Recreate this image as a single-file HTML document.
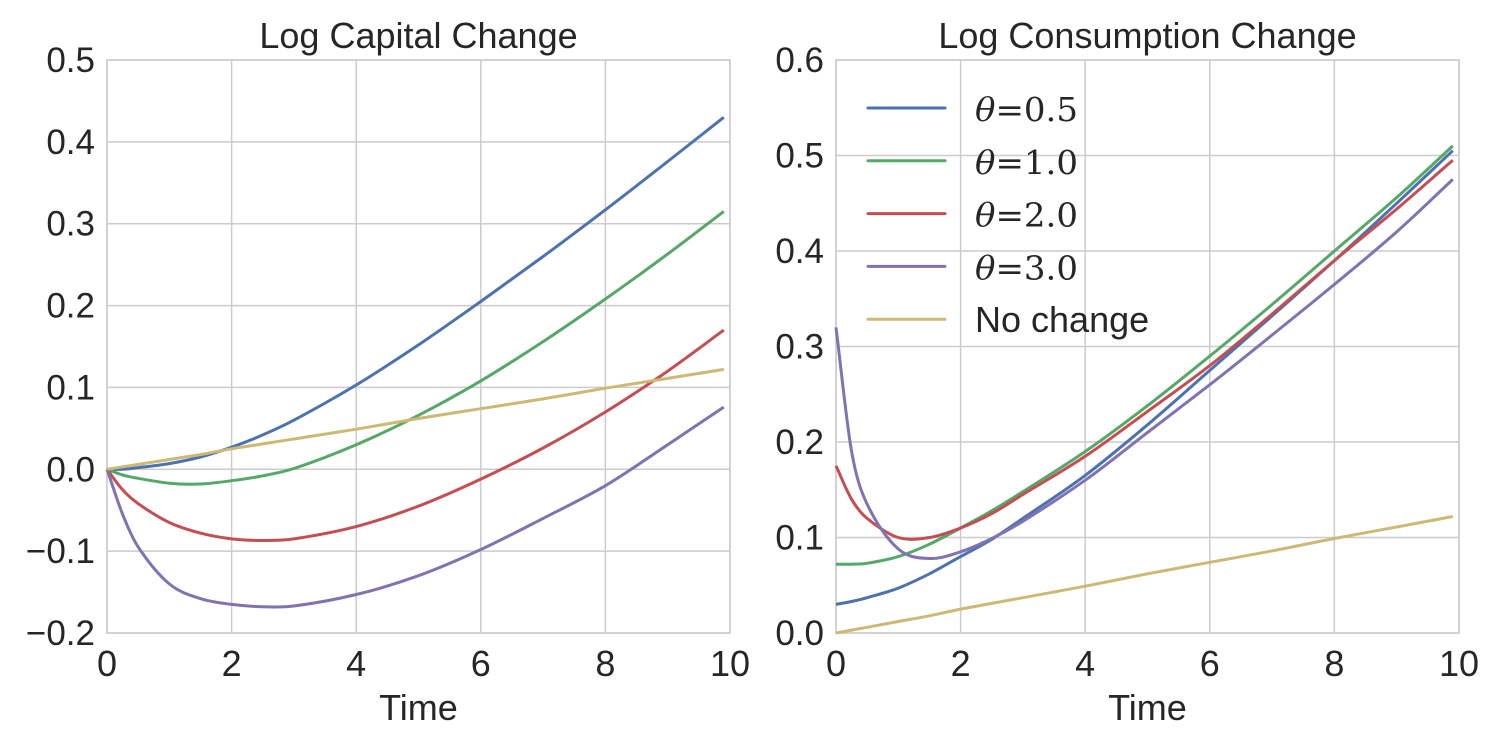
<!DOCTYPE html>
<html><head><meta charset="utf-8"><style>
body{margin:0;background:#fff}
svg{display:block;font-family:"Liberation Sans",sans-serif}
</style></head><body>
<svg id="c" width="1500" height="750"></svg>
<script>
const times=[0,0.25,0.5,1,1.5,2,2.5,3,4,5,6,7,8,9,9.9];
const capBlue=[0,0,0.002,0.007,0.015,0.027,0.042,0.06,0.103,0.152,0.205,0.26,0.317,0.376,0.43];
const capGreen=[0,-0.007,-0.011,-0.017,-0.018,-0.014,-0.008,0.001,0.03,0.066,0.108,0.156,0.208,0.263,0.315];
const capRed=[0,-0.025,-0.042,-0.065,-0.078,-0.085,-0.087,-0.085,-0.07,-0.045,-0.012,0.026,0.07,0.12,0.17];
const capPurple=[0,-0.055,-0.095,-0.14,-0.158,-0.165,-0.168,-0.167,-0.153,-0.13,-0.098,-0.06,-0.02,0.03,0.076];
const capYellow=[0,0.003,0.006,0.012,0.018,0.025,0.031,0.037,0.049,0.062,0.074,0.086,0.099,0.111,0.122];
const conBlue=[0.03,0.033,0.037,0.047,0.062,0.08,0.098,0.12,0.165,0.218,0.275,0.332,0.39,0.45,0.505];
const conGreen=[0.072,0.072,0.073,0.08,0.093,0.11,0.128,0.148,0.19,0.238,0.29,0.344,0.4,0.456,0.51];
const conRed=[0.175,0.14,0.12,0.1,0.1,0.11,0.125,0.145,0.185,0.232,0.28,0.334,0.39,0.444,0.495];
const conPurple=[0.32,0.19,0.135,0.088,0.078,0.085,0.099,0.117,0.16,0.21,0.26,0.312,0.365,0.42,0.475];
const conYellow=capYellow;
const xTicks=[0,2,4,6,8,10];
const yTicksL=[-0.2,-0.1,0,0.1,0.2,0.3,0.4,0.5];
const yTicksR=[0,0.1,0.2,0.3,0.4,0.5,0.6];
const colors=["#4c72b0","#55a868","#c44e52","#8172b2","#ccb974"];
const labels=["0.5","1.0","2.0","3.0"];
const NS="http://www.w3.org/2000/svg";
const svg=document.getElementById('c');
function mk(t,a,p){const e=document.createElementNS(NS,t);for(const k in a)e.setAttribute(k,a[k]);(p||svg).appendChild(e);return e;}
function fmt(v){let s=v.toFixed(1);if(s==="-0.0")s="0.0";return s.replace('-','\u2212');}
function smooth(ts,ys,X,Y){const n=ts.length,m=[];
  for(let i=0;i<n;i++){const a=Math.max(0,i-1),b=Math.min(n-1,i+1);m.push((ys[b]-ys[a])/(ts[b]-ts[a]));}
  const f=v=>v.toFixed(1);
  let d='M'+f(X(ts[0]))+','+f(Y(ys[0]));
  for(let i=0;i<n-1;i++){const h=ts[i+1]-ts[i];
    d+='C'+f(X(ts[i]+h/3))+','+f(Y(ys[i]+m[i]*h/3))+' '+f(X(ts[i+1]-h/3))+','+f(Y(ys[i+1]-m[i+1]*h/3))+' '+f(X(ts[i+1]))+','+f(Y(ys[i+1]));}
  return d;}
function panel(x0,x1,y0,y1,ymin,ymax,yt,title,series,name){
  const g=mk('g',{});
  
  
  const X=v=>x0+(v-0)/10*(x1-x0), Y=v=>y1-(v-ymin)/(ymax-ymin)*(y1-y0);
  xTicks.forEach(t=>{const l=mk('line',{x1:X(t),x2:X(t),y1:y0,y2:y1,stroke:'#cccccc','stroke-width':1.5},g);
    const tx=mk('text',{x:X(t),y:y1+43,'text-anchor':'middle','font-size':36,fill:'#262626'},g);tx.textContent=t;});
  yt.forEach(t=>{const l=mk('line',{x1:x0,x2:x1,y1:Y(t),y2:Y(t),stroke:'#cccccc','stroke-width':1.5},g);
    const tx=mk('text',{x:x0-12,y:Y(t)+12,'text-anchor':'end','font-size':35,fill:'#262626'},g);tx.textContent=fmt(t);});
  const fr=mk('rect',{x:x0,y:y0,width:x1-x0,height:y1-y0,fill:'none',stroke:'#cccccc','stroke-width':1.5},g);
  series.forEach((s,i)=>{const p=mk('path',{d:smooth(times,s,X,Y),fill:'none',stroke:colors[i],'stroke-width':3,'stroke-linejoin':'round'},g);
    });
  const tt=mk('text',{x:(x0+x1)/2,y:48,'text-anchor':'middle','font-size':36,fill:'#262626'},g);tt.textContent=title;
  const xl=mk('text',{x:(x0+x1)/2,y:720,'text-anchor':'middle','font-size':36,fill:'#262626'},g);xl.textContent='Time';
}
panel(107,730,60,633,-0.2,0.5,yTicksL,'Log Capital Change',[capBlue,capGreen,capRed,capPurple,capYellow],'capital-panel');
panel(836,1459,60,633,0,0.6,yTicksR,'Log Consumption Change',[conBlue,conGreen,conRed,conPurple,conYellow],'consumption-panel');
const lg=mk('g',{});


for(let i=0;i<5;i++){const y=108+i*52.8;
  const l=mk('line',{x1:868,x2:945,y1:y,y2:y,stroke:colors[i],'stroke-width':3,'stroke-linecap':'round'},lg);
  const t=mk('text',{x:975,y:y+13,'font-size':36,fill:'#262626'},lg);
  
  if(i<4){t.setAttribute('font-family','"DejaVu Serif","Liberation Serif",serif');t.setAttribute('font-size','33');t.setAttribute('textLength','103');t.setAttribute('lengthAdjust','spacingAndGlyphs');t.innerHTML='<tspan font-style="italic">θ</tspan>='+labels[i];}
  else t.textContent='No change';}
</script>
</body></html>
